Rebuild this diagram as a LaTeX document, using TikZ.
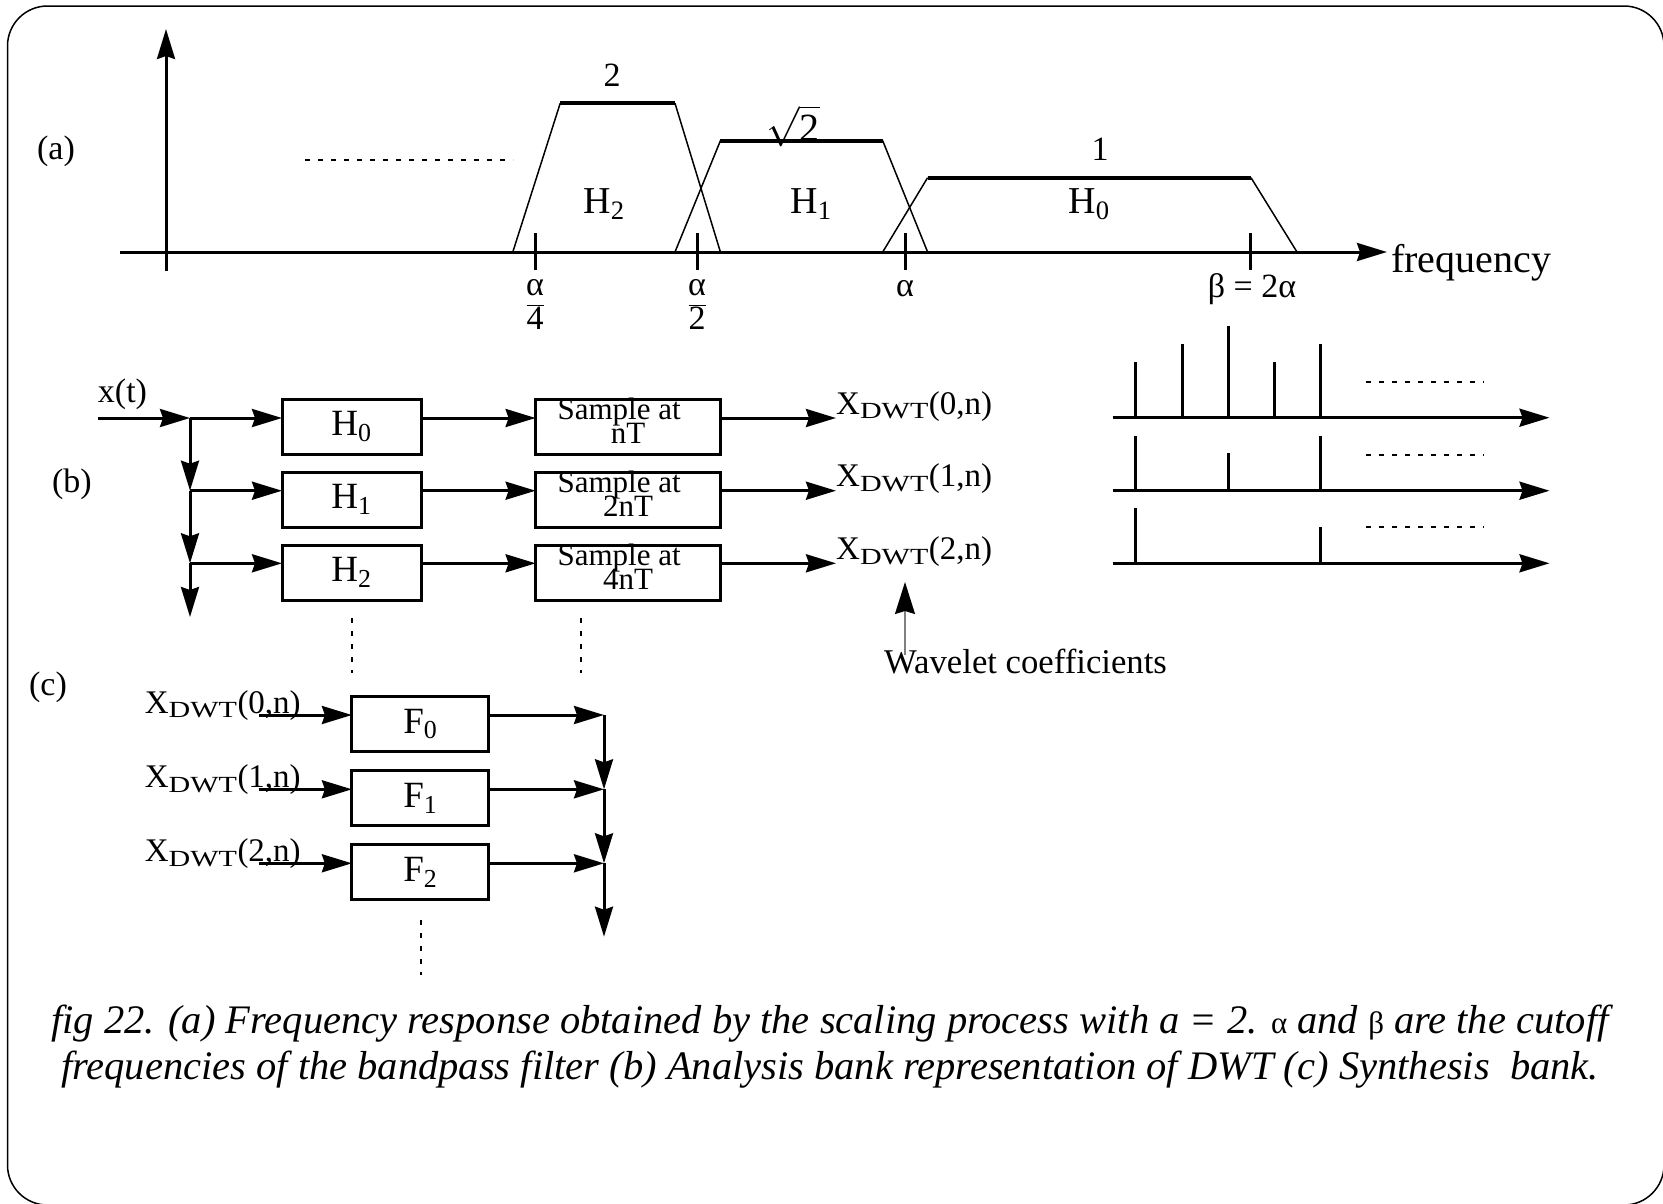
\RequirePackage{fix-cm}
\documentclass[tikz,border=0pt]{standalone}
\usepackage{fontspec}
\usepackage{graphicx}
\setmainfont{Liberation Serif}
\usetikzlibrary{arrows.meta,positioning}
\setlength{\lineskiplimit}{-100pt}
\newcommand{\dwt}[1]{X\textsubscript{\scalebox{1.3}[1]{DWT}}(#1,n)}

\begin{document}
\begin{tikzpicture}[
    x=1pt, y=-1pt,
    block/.style={rectangle, draw, line width=3pt, outer sep=0pt, inner sep=0pt, minimum width=139pt, minimum height=55pt, font={\fontsize{37}{40}\selectfont}},
    sampler/.style={block, minimum width=185pt, align=center, text height=44pt, text depth=11pt, font={\fontsize{31}{24}\selectfont}},
    arrow/.style={draw, -{Stealth[length=30pt, width=18pt, inset=3pt]}, line width=3pt},
    band/.style={line width=1.5pt},
    bandtop/.style={line width=4pt},
    dots/.style={line width=2pt, dash pattern=on 5pt off 8pt},
    lbl/.style={inner sep=0pt, font={\fontsize{34}{38}\selectfont}},
    dwtlbl/.style={lbl, anchor=base west, font={\fontsize{33}{36}\selectfont}},
    node distance=18pt
]

\useasboundingbox (0,0) rectangle (1663,1203);
\draw[line width=1.5pt, rounded corners=40pt] (7.5,6) rectangle (1664,1205);

% (a) frequency response
\foreach \a/\b/\c/\d/\h in {512.8/560.2/675/720.4/103.3, 675/720.4/882.7/927.6/140.7, 882.7/927.6/1251/1297/177.7} {
  \draw[band] (\a,252) -- (\b,\h) (\c,\h) -- (\d,252);
  \draw[bandtop] (\b,\h) -- (\c,\h);
}
\draw[arrow] (166,271) -- (166,29);
\draw[arrow] (120,252) -- (1387,252);
\foreach \t in {535.7,697.4,905.5,1250.7}
  \draw[line width=3pt] (\t,233) -- (\t,270);
\draw[dots] (305,160) -- (513,160);

\node[lbl] (pa) at (56,151) {(a)};
\node[lbl] (two) at (612,75) {2};
\node[lbl, anchor=base, font={\fontsize{40}{44}\selectfont}] (root) at (793,141) {$\sqrt{\mbox{2}}$};
\node[lbl] (one) at (1100,149) {1};
\node[lbl, font={\fontsize{38}{40}\selectfont}] (htwo) at (604,204) {H\textsubscript{2}};
\node[lbl, font={\fontsize{38}{40}\selectfont}] (hone) at (811,204) {H\textsubscript{1}};
\node[lbl, font={\fontsize{38}{40}\selectfont}] (hzero) at (1089,204) {H\textsubscript{0}};
\node[lbl, align=center, font={\fontsize{34}{34}\selectfont}] (quarter) at (535,304) {α\\$\overline{\mbox{4}}$};
\node[lbl, align=center, font={\fontsize{34}{34}\selectfont}] (half) at (697,304) {α\\$\overline{\mbox{2}}$};
\node[lbl] (alpha) at (905,289) {α};
\node[lbl] (beta) at (1252,289) {β = 2α};
\node[lbl, anchor=base west, font={\fontsize{40}{44}\selectfont}] (freq) at (1391,272) {frequency};

% (b) analysis bank
\node[lbl] (pb) at (72,484) {(b)};
\node[lbl] (xt) at (122.5,394) {x(t)};
\coordinate (in) at (97.5,418);
\coordinate (j0) at (190,418);
\coordinate (j1) at (190,490.7);
\coordinate (j2) at (190,563.3);
\coordinate (j3) at (190,617);

\node[block] (h0) at (351.5,426.5) {H\textsubscript{0}};
\node[block, below=of h0] (h1) {H\textsubscript{1}};
\node[block, below=of h1] (h2) {H\textsubscript{2}};
\node[sampler, right=114.6pt of h0] (s0) {Sample at\hspace*{18pt}\\nT};
\node[sampler, right=114.6pt of h1] (s1) {Sample at\hspace*{18pt}\\2nT};
\node[sampler, right=114.6pt of h2] (s2) {Sample at\hspace*{18pt}\\4nT};
\node[dwtlbl] (c0) at (836,414) {\dwt{0}};
\node[dwtlbl] (c1) at (836,486.7) {\dwt{1}};
\node[dwtlbl] (c2) at (836,559.3) {\dwt{2}};

\draw[arrow] (in) -- (j0);
\draw[arrow] (j0) -- (j1);
\draw[arrow] (j1) -- (j2);
\draw[arrow] (j2) -- (j3);
\foreach \k in {0,1,2} {
  \draw[arrow] (j\k) -- (j\k -| h\k.west);
  \draw[arrow] (j\k -| h\k.east) -- (j\k -| s\k.west);
  \draw[arrow] (j\k -| s\k.east) -- (j\k -| c\k.west);
}
\draw[dots] (352,618) -- (352,673);
\draw[dots] (581,618) -- (581,673);

\node[lbl, anchor=west, font={\fontsize{34.7}{38}\selectfont}] (wav) at (884,662) {Wavelet coefficients};
\coordinate (wtail) at (905,655);
\coordinate (wtip) at (905,582);
\draw[gray, line width=1.5pt, -{Stealth[length=32pt, width=20pt, inset=3pt, color=black]}] (wtail) -- (wtip);

% sampled sequences
\foreach \k/\y in {0/417.7, 1/490.7, 2/563.3} {
  \coordinate (t\k) at (1112.6,\y);
  \coordinate (e\k) at (1549.5,\y);
  \draw[arrow] (t\k) -- (e\k);
  \draw[dots] (1366,\y-36) -- (1484,\y-36);
}
\foreach \x/\h in {1135.9/362.3, 1182.6/344.3, 1228.2/326, 1274.1/362.3, 1320/344.3}
  \draw[line width=3pt] (\x,417.7) -- (\x,\h);
\foreach \x/\h in {1135.9/435.7, 1228.2/453.3, 1320/435.7}
  \draw[line width=3pt] (\x,490.7) -- (\x,\h);
\foreach \x/\h in {1135.9/508.3, 1320/526.7}
  \draw[line width=3pt] (\x,563.3) -- (\x,\h);

% (c) synthesis bank
\node[lbl] (pc) at (48,687) {(c)};
\node[block, minimum width=137pt] (f0) at (420.4,724.2) {F\textsubscript{0}};
\node[block, minimum width=137pt, below=19pt of f0] (f1) {F\textsubscript{1}};
\node[block, minimum width=137pt, below=19pt of f1] (f2) {F\textsubscript{2}};
\node[dwtlbl] (d0) at (144.6,713) {\dwt{0}};
\node[dwtlbl] (d1) at (144.6,787.3) {\dwt{1}};
\node[dwtlbl] (d2) at (144.6,861.3) {\dwt{2}};
\coordinate (a0) at (259,715);
\coordinate (a1) at (259,789.3);
\coordinate (a2) at (259,863.3);
\coordinate (m0) at (604,715);
\coordinate (m1) at (604,789.3);
\coordinate (m2) at (604,863.3);
\coordinate (m3) at (604,936.7);
\foreach \k in {0,1,2} {
  \draw[arrow] (a\k) -- (a\k -| f\k.west);
  \draw[arrow] (m\k -| f\k.east) -- (m\k);
}
\draw[arrow] (m0) -- (m1);
\draw[arrow] (m1) -- (m2);
\draw[arrow] (m2) -- (m3);
\draw[dots] (421,920) -- (421,975);

% caption
\node[font={\fontsize{40.5}{46}\selectfont\itshape}, align=center] (caption) at (830,1047) {fig 22. (a) Frequency response obtained by the scaling process with a = 2. {\upshape\fontsize{31}{46}\selectfont α} and {\upshape\fontsize{31}{46}\selectfont β} are the cutoff\\ frequencies of the bandpass filter (b) Analysis bank representation of DWT (c) Synthesis\ \ bank.};

\end{tikzpicture}
\end{document}
